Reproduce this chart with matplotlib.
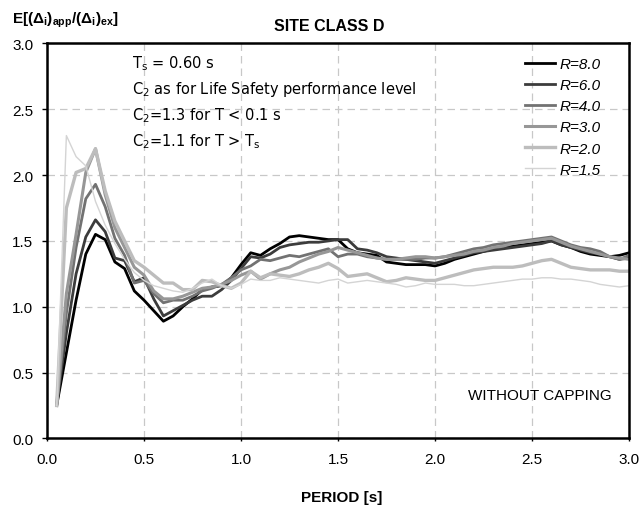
import numpy as np
import matplotlib
matplotlib.use('Agg')
import matplotlib.pyplot as plt

plt.rcParams['font.family'] = ['Liberation Sans', 'DejaVu Sans']
plt.rcParams['mathtext.default'] = 'regular'

# period axis, 0.05 s step
periods = [round(0.05 * k, 2) for k in range(1, 61)]

r80 = [0.25, 0.65, 1.05, 1.40, 1.55, 1.51, 1.34, 1.29, 1.12, 1.05,
       0.97, 0.89, 0.93, 1.00, 1.06, 1.13, 1.15, 1.16, 1.22, 1.32,
       1.41, 1.39, 1.44, 1.48, 1.53, 1.54, 1.53, 1.52, 1.51, 1.51,
       1.44, 1.41, 1.40, 1.39, 1.34, 1.33, 1.32, 1.32, 1.32, 1.31,
       1.33, 1.36, 1.38, 1.40, 1.42, 1.44, 1.45, 1.46, 1.47, 1.48,
       1.49, 1.50, 1.47, 1.45, 1.42, 1.40, 1.39, 1.38, 1.39, 1.41]
r60 = [0.25, 0.80, 1.25, 1.53, 1.66, 1.57, 1.37, 1.35, 1.19, 1.22,
       1.06, 0.93, 0.97, 1.01, 1.05, 1.08, 1.08, 1.13, 1.20, 1.29,
       1.38, 1.37, 1.40, 1.45, 1.47, 1.48, 1.49, 1.49, 1.50, 1.51,
       1.51, 1.44, 1.43, 1.41, 1.38, 1.37, 1.36, 1.35, 1.34, 1.33,
       1.35, 1.37, 1.39, 1.41, 1.42, 1.43, 1.44, 1.45, 1.46, 1.47,
       1.48, 1.50, 1.47, 1.45, 1.43, 1.41, 1.40, 1.38, 1.36, 1.37]
r40 = [0.25, 0.95, 1.45, 1.82, 1.93, 1.76, 1.52, 1.39, 1.18, 1.20,
       1.10, 1.03, 1.05, 1.05, 1.08, 1.12, 1.14, 1.17, 1.22, 1.28,
       1.31, 1.36, 1.35, 1.37, 1.39, 1.38, 1.40, 1.42, 1.44, 1.38,
       1.40, 1.40, 1.38, 1.37, 1.36, 1.36, 1.36, 1.36, 1.37, 1.37,
       1.38, 1.40, 1.42, 1.44, 1.45, 1.47, 1.48, 1.49, 1.50, 1.51,
       1.52, 1.53, 1.50, 1.47, 1.45, 1.44, 1.42, 1.38, 1.36, 1.39]
r30 = [0.25, 1.10, 1.55, 2.02, 2.20, 1.85, 1.60, 1.45, 1.30, 1.24,
       1.12, 1.06, 1.06, 1.08, 1.11, 1.14, 1.15, 1.17, 1.20, 1.24,
       1.27, 1.21, 1.25, 1.28, 1.30, 1.34, 1.37, 1.40, 1.42, 1.45,
       1.43, 1.41, 1.39, 1.37, 1.36, 1.36, 1.37, 1.38, 1.38, 1.37,
       1.38, 1.39, 1.40, 1.42, 1.43, 1.45, 1.46, 1.48, 1.49, 1.50,
       1.51, 1.52, 1.49, 1.46, 1.44, 1.42, 1.40, 1.38, 1.37, 1.36]
r20 = [0.25, 1.75, 2.02, 2.05, 2.20, 1.88, 1.65, 1.50, 1.35, 1.30,
       1.24, 1.18, 1.18, 1.13, 1.13, 1.20, 1.19, 1.16, 1.14, 1.18,
       1.27, 1.22, 1.25, 1.24, 1.23, 1.25, 1.28, 1.30, 1.33, 1.29,
       1.23, 1.24, 1.25, 1.22, 1.19, 1.20, 1.22, 1.21, 1.20, 1.20,
       1.22, 1.24, 1.26, 1.28, 1.29, 1.30, 1.30, 1.30, 1.31, 1.33,
       1.35, 1.36, 1.33, 1.30, 1.29, 1.28, 1.28, 1.28, 1.27, 1.27]
r15 = [0.25, 2.30, 2.14, 2.07, 1.80, 1.62, 1.48, 1.36, 1.26, 1.20,
       1.16, 1.14, 1.12, 1.11, 1.14, 1.18, 1.21, 1.16, 1.14, 1.17,
       1.21, 1.20, 1.20, 1.22, 1.21, 1.20, 1.19, 1.18, 1.20, 1.21,
       1.18, 1.19, 1.20, 1.19, 1.18, 1.17, 1.15, 1.16, 1.18, 1.17,
       1.17, 1.17, 1.16, 1.16, 1.17, 1.18, 1.19, 1.20, 1.21, 1.21,
       1.22, 1.22, 1.21, 1.21, 1.20, 1.19, 1.17, 1.16, 1.15, 1.16]

series = [r80, r60, r40, r30, r20, r15]
labels = ['R=8.0', 'R=6.0', 'R=4.0', 'R=3.0', 'R=2.0', 'R=1.5']
colors = ['#000000', '#3c3c3c', '#727272', '#979797', '#bdbdbd', '#d4d4d4']
widths = [2.0, 2.0, 2.0, 2.2, 2.4, 1.0]

tick_vals = np.arange(0, 3.01, 0.5)
tick_txt = ['%.1f' % v for v in tick_vals]

fig = plt.figure(figsize=(6.4, 5.06), dpi=100)
ax = fig.add_axes([0.0734, 0.1316, 0.9096, 0.7806])

for vals, lab, c, w in zip(series, labels, colors, widths):
    ax.plot(periods, vals, color=c, lw=w, label=lab)

ax.set_xlim(0, 3)
ax.set_ylim(0, 3)
ax.set_xticks(tick_vals)
ax.set_yticks(tick_vals)
ax.set_xticklabels(tick_txt, fontsize=11)
ax.set_yticklabels(tick_txt, fontsize=11)
ax.tick_params(axis='x', direction='out', length=2.5, width=1, pad=7)
ax.tick_params(axis='y', direction='out', length=3.5, width=1, pad=6.5)
ax.grid(True, color='#c8c8c8', linestyle=(0, (6, 4)), lw=0.9)
ax.set_axisbelow(True)
for s in ax.spines.values():
    s.set_linewidth(1.8)

ax.legend(loc='upper left', bbox_to_anchor=(0.8213, 0.966), frameon=False,
          handlelength=1.96, handletextpad=0.28, labelspacing=0.47,
          borderpad=0, borderaxespad=0,
          prop={'style': 'italic', 'size': 11})

note_font = {'family': 'DejaVu Sans', 'size': 10.5}
ax.text(0.146, 0.939, r'T$_s$ = 0.60 s', transform=ax.transAxes, va='baseline', **note_font)
ax.text(0.146, 0.874, r'C$_2$ as for Life Safety performance level',
        transform=ax.transAxes, va='baseline', **note_font)
ax.text(0.146, 0.808, r'C$_2$=1.3 for T < 0.1 s', transform=ax.transAxes,
        va='baseline', **note_font)
ax.text(0.146, 0.742, r'C$_2$=1.1 for T > T$_s$', transform=ax.transAxes,
        va='baseline', **note_font)
ax.text(0.970, 0.0995, 'WITHOUT CAPPING', transform=ax.transAxes, fontsize=11,
        ha='right', va='baseline')

fig.text(0.514, 0.9393, 'SITE CLASS D', fontsize=11.5, fontweight='bold',
         ha='center', va='baseline')
fig.text(0.0183, 0.9526, r'E[($\Delta_i$)$_{app}$/($\Delta_i$)$_{ex}$]',
         fontsize=11, fontweight='bold', va='baseline')
fig.text(0.534, 0.0085, 'PERIOD [s]', fontsize=11, fontweight='bold',
         ha='center', va='baseline')

fig.savefig('out.png', dpi=100)
